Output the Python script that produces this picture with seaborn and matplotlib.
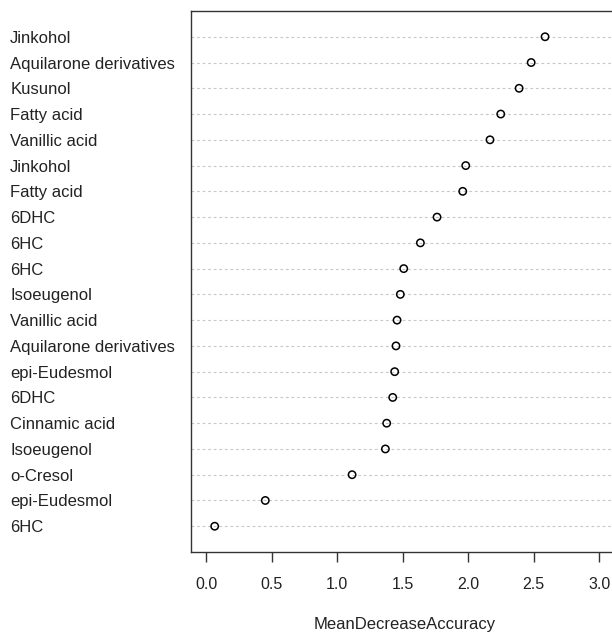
import numpy as np
import pandas as pd
import matplotlib
matplotlib.use("Agg")
import matplotlib.pyplot as plt
import seaborn as sns

# variable importance, top to bottom as shown
features = ["Jinkohol", "Aquilarone derivatives", "Kusunol", "Fatty acid", "Vanillic acid",
            "Jinkohol", "Fatty acid", "6DHC", "6HC", "6HC",
            "Isoeugenol", "Vanillic acid", "Aquilarone derivatives", "epi-Eudesmol", "6DHC",
            "Cinnamic acid", "Isoeugenol", "o-Cresol", "epi-Eudesmol", "6HC"]
mean_decrease_accuracy = [2.586, 2.480, 2.388, 2.248, 2.166,
                          1.981, 1.958, 1.762, 1.635, 1.508,
                          1.482, 1.457, 1.449, 1.439, 1.424,
                          1.378, 1.368, 1.114, 0.452, 0.066]
xticks = [0.0, 0.5, 1.0, 1.5, 2.0, 2.5, 3.0]

df = pd.DataFrame({"feature": features, "value": mean_decrease_accuracy})
df["row"] = np.arange(len(df), 0, -1)

sns.set_style("white")
plt.rcParams["font.family"] = ["Liberation Sans", "DejaVu Sans"]

fig = plt.figure(figsize=(6.12, 6.34), dpi=100)
ax = fig.add_axes([190.7 / 612, 82 / 634, (619 - 190.7) / 612, 541 / 634])

sns.scatterplot(data=df, x="value", y="row", marker="o", s=28,
                facecolor="none", edgecolor="black", linewidth=1.1,
                ax=ax, zorder=3, legend=False)

ax.set_xlim(-0.117, 3.15)
ax.set_ylim(0, 21)

ax.set_yticks(df["row"])
ax.set_yticklabels(df["feature"], ha="left", fontsize=12, color="#222222")
ax.tick_params(axis="y", length=0, pad=130)

ax.set_xticks(xticks)
ax.set_xticklabels([f"{t:.1f}" for t in xticks], fontsize=11.5, color="#222222")
ax.tick_params(axis="x", length=7.5, width=1, color="#333333", pad=10.5, direction="out", bottom=True)

ax.yaxis.grid(True, linestyle=(0, (2.5, 2.5)), color="#c8c8c8", linewidth=0.8)
ax.xaxis.grid(False)
ax.set_axisbelow(True)

for side in ["left", "top", "bottom", "right"]:
    ax.spines[side].set_color("#333333")
    ax.spines[side].set_linewidth(1.0)

ax.set_xlabel("MeanDecreaseAccuracy", fontsize=12, color="#222222", labelpad=18)
ax.set_ylabel("")

fig.savefig("out.png", dpi=100)
